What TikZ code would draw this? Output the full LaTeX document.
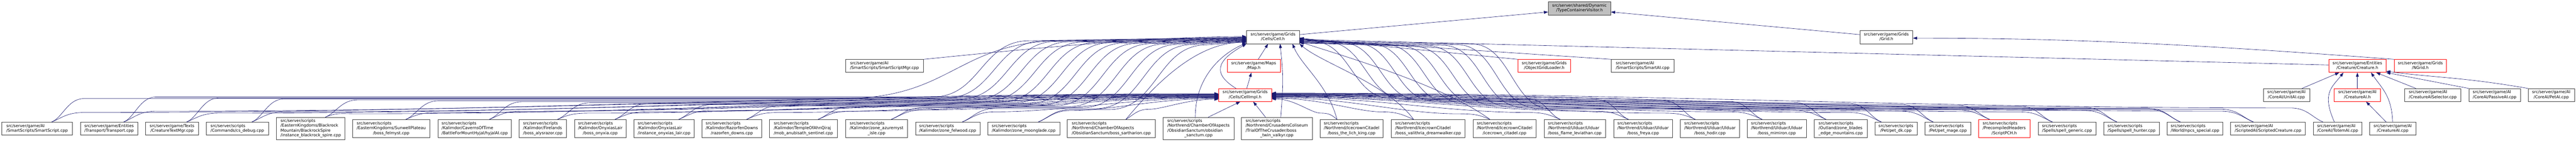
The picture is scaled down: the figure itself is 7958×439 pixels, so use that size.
\documentclass[tikz,border=0pt]{standalone}
\usepackage{fontspec}
\setmainfont{DejaVu Sans}
\usetikzlibrary{arrows.meta,calc}
\definecolor{mb}{HTML}{191970}
\definecolor{focusgray}{HTML}{BFBFBF}
\definecolor{nodeborder}{HTML}{404040}
\definecolor{nodered}{HTML}{FF0000}
\newcommand\mklbl[2]{\begin{tabular}{@{}l@{}}#1\\\multicolumn{1}{@{}c@{}}{#2}\end{tabular}}
\newcommand\mkbox[7]{%
 \pgfmathsetmacro\mkbw{#3-#2}\pgfmathsetmacro\mkbh{#5-#4}%
 \node[#6,minimum width=\mkbw pt,minimum height=\mkbh pt] (#1) at ({(#2+#3)/2},{-(#4+#5)/2}) {#7};}
% left source -> CellImpl (west side)
\newcommand\eLI[3]{%
 \draw[dep] let \p1=([xshift=45pt]#1.north), \p2=([yshift=#3pt]cellimpl.west),
   \n1={min(100,0.25*(\x2-\x1))}, \n2={\x2-\x1} in
 (\p1) .. controls ({\x1+0.35*\n1},{\y1+15}) and ({\x1+0.5*\n1},#2) .. ({\x1+\n1},#2)
 .. controls ({\x1+0.4*\n2},#2) and ({\x1+0.65*\n2},\y2) .. (\p2);}
% right source -> CellImpl (east side)
\newcommand\eRI[3]{%
 \draw[dep] let \p1=([xshift=-45pt]#1.north), \p2=([yshift=#3pt]cellimpl.east),
   \n1={min(100,0.25*(\x1-\x2))}, \n2={\x1-\x2} in
 (\p1) .. controls ({\x1-0.35*\n1},{\y1+15}) and ({\x1-0.5*\n1},#2) .. ({\x1-\n1},#2)
 .. controls ({\x1-0.4*\n2},#2) and ({\x1-0.65*\n2},\y2) .. (\p2);}
% left source -> Cell (bundle, then S-rise)
\newcommand\eLC[5]{%
 \draw[dep] let \p1=([xshift=45pt]#1.north), \p2=([yshift=#4pt]cell.west) in
 (\p1) .. controls ({\x1+35},{\y1+15}) and ({\x1+50},#3) .. ({\x1+100},#3)
 -- (#2,#3) .. controls ({#2+0.5*#5},#3) and ({#2+0.5*#5},{\y2-10}) .. ({#2+#5},{\y2-10}) -- (\p2);}
% right source -> Cell (bundle, then S-rise)
\newcommand\eRC[5]{%
 \draw[dep] let \p1=([xshift=-45pt]#1.north), \p2=([yshift=#4pt]cell.east) in
 (\p1) .. controls ({\x1-35},{\y1+15}) and ({\x1-50},#3) .. ({\x1-100},#3)
 -- (#2,#3) .. controls ({#2-0.5*#5},#3) and ({#2-0.5*#5},{\y2-10}) .. ({#2-#5},{\y2-10}) -- (\p2);}
\begin{document}
\begin{tikzpicture}[x=1pt,y=1pt,
  nbox/.style={draw=nodeborder,line width=1pt,fill=white,inner sep=0pt,text=black,
    font=\fontsize{12.5}{15}\selectfont},
  rbox/.style={nbox,draw=nodered},
  gbox/.style={nbox,fill=focusgray},
  dep/.style={draw=mb,line width=1pt,-{Triangle[length=13pt,width=9pt]}}]
\fill[white] (0,-439) rectangle (7958,0);
\useasboundingbox (0,-439) rectangle (7958,0);
% upper ranks
\mkbox{tcv}{4783}{4976}{6}{46}{gbox}{\mklbl{src/server/shared/Dynamic}{/TypeContainerVisitor.h}}
\mkbox{cell}{3851}{4014}{95}{135}{nbox}{\mklbl{src/server/game/Grids}{/Cells/Cell.h}}
\mkbox{grid}{5746}{5909}{95}{135}{nbox}{\mklbl{src/server/game/Grids}{/Grid.h}}
\mkbox{ssm}{2612}{2853}{184}{224}{nbox}{\mklbl{src/server/game/AI}{/SmartScripts/SmartScriptMgr.cpp}}
\mkbox{map}{3791}{3955}{184}{224}{rbox}{\mklbl{src/server/game/Maps}{/Map.h}}
\mkbox{ogl}{4689}{4852}{184}{224}{rbox}{\mklbl{src/server/game/Grids}{/ObjectGridLoader.h}}
\mkbox{sai}{4978}{5171}{184}{224}{nbox}{\mklbl{src/server/game/AI}{/SmartScripts/SmartAI.cpp}}
\mkbox{creature}{7194}{7371}{184}{224}{rbox}{\mklbl{src/server/game/Entities}{/Creature/Creature.h}}
\mkbox{ngrid}{7396}{7558}{184}{224}{rbox}{\mklbl{src/server/game/Grids}{/NGrid.h}}
\mkbox{cellimpl}{3765}{3928}{274}{314}{rbox}{\mklbl{src/server/game/Grids}{/Cells/CellImpl.h}}
\mkbox{unitai}{6992}{7135}{274}{314}{nbox}{\mklbl{src/server/game/AI}{/CoreAI/UnitAI.cpp}}
\mkbox{caih}{7211}{7354}{274}{314}{rbox}{\mklbl{src/server/game/AI}{/CreatureAI.h}}
\mkbox{caisel}{7429}{7602}{274}{314}{nbox}{\mklbl{src/server/game/AI}{/CreatureAISelector.cpp}}
\mkbox{passive}{7627}{7786}{274}{314}{nbox}{\mklbl{src/server/game/AI}{/CoreAI/PassiveAI.cpp}}
\mkbox{petai}{7810}{7953}{274}{314}{nbox}{\mklbl{src/server/game/AI}{/CoreAI/PetAI.cpp}}
% bottom rank
\mkbox{n1}{5}{224}{378}{418}{nbox}{\mklbl{src/server/game/AI}{/SmartScripts/SmartScript.cpp}}
\mkbox{n2}{248}{426}{378}{418}{nbox}{\mklbl{src/server/game/Entities}{/Transport/Transport.cpp}}
\mkbox{n3}{450}{613}{378}{418}{nbox}{\mklbl{src/server/game/Texts}{/CreatureTextMgr.cpp}}
\mkbox{n4}{637}{829}{378}{418}{nbox}{\mklbl{src/server/scripts}{/Commands/cs\_debug.cpp}}
\mkbox{n5}{854}{1066}{363}{432}{nbox}{\mklbl{src/server/scripts\\/EasternKingdoms/Blackrock\\Mountain/BlackrockSpire}{/instance\_blackrock\_spire.cpp}}
\mkbox{n6}{1089}{1328}{370}{425}{nbox}{\mklbl{src/server/scripts\\/EasternKingdoms/SunwellPlateau}{/boss\_felmyst.cpp}}
\mkbox{n7}{1353}{1580}{370}{425}{nbox}{\mklbl{src/server/scripts\\/Kalimdor/CavernsOfTime}{/BattleForMountHyjal/hyjalAI.cpp}}
\mkbox{n8}{1604}{1750}{370}{425}{nbox}{\mklbl{src/server/scripts\\/Kalimdor/Firelands}{/boss\_alysrazor.cpp}}
\mkbox{n9}{1775}{1934}{370}{425}{nbox}{\mklbl{src/server/scripts\\/Kalimdor/OnyxiasLair}{/boss\_onyxia.cpp}}
\mkbox{n10}{1958}{2145}{370}{425}{nbox}{\mklbl{src/server/scripts\\/Kalimdor/OnyxiasLair}{/instance\_onyxias\_lair.cpp}}
\mkbox{n11}{2169}{2353}{370}{425}{nbox}{\mklbl{src/server/scripts\\/Kalimdor/RazorfenDowns}{/razorfen\_downs.cpp}}
\mkbox{n12}{2377}{2587}{370}{425}{nbox}{\mklbl{src/server/scripts\\/Kalimdor/TempleOfAhnQiraj}{/mob\_anubisath\_sentinel.cpp}}
\mkbox{n13}{2612}{2804}{370}{425}{nbox}{\mklbl{src/server/scripts\\/Kalimdor/zone\_azuremyst}{\_isle.cpp}}
\mkbox{n14}{2828}{3027}{378}{418}{nbox}{\mklbl{src/server/scripts}{/Kalimdor/zone\_felwood.cpp}}
\mkbox{n15}{3051}{3274}{378}{418}{nbox}{\mklbl{src/server/scripts}{/Kalimdor/zone\_moonglade.cpp}}
\mkbox{n16}{3297}{3569}{370}{425}{nbox}{\mklbl{src/server/scripts\\/Northrend/ChamberOfAspects}{/ObsidianSanctum/boss\_sartharion.cpp}}
\mkbox{n17}{3593}{3812}{363}{432}{nbox}{\mklbl{src/server/scripts\\/Northrend/ChamberOfAspects\\/ObsidianSanctum/obsidian}{\_sanctum.cpp}}
\mkbox{n18}{3835}{4054}{363}{432}{nbox}{\mklbl{src/server/scripts\\/Northrend/CrusadersColiseum\\/TrialOfTheCrusader/boss}{\_twin\_valkyr.cpp}}
\mkbox{n19}{4078}{4273}{370}{425}{nbox}{\mklbl{src/server/scripts\\/Northrend/IcecrownCitadel}{/boss\_the\_lich\_king.cpp}}
\mkbox{n20}{4298}{4526}{370}{425}{nbox}{\mklbl{src/server/scripts\\/Northrend/IcecrownCitadel}{/boss\_valithria\_dreamwalker.cpp}}
\mkbox{n21}{4551}{4745}{370}{425}{nbox}{\mklbl{src/server/scripts\\/Northrend/IcecrownCitadel}{/icecrown\_citadel.cpp}}
\mkbox{n22}{4770}{4960}{370}{425}{nbox}{\mklbl{src/server/scripts\\/Northrend/Ulduar/Ulduar}{/boss\_flame\_leviathan.cpp}}
\mkbox{n23}{4985}{5167}{370}{425}{nbox}{\mklbl{src/server/scripts\\/Northrend/Ulduar/Ulduar}{/boss\_freya.cpp}}
\mkbox{n24}{5191}{5374}{370}{425}{nbox}{\mklbl{src/server/scripts\\/Northrend/Ulduar/Ulduar}{/boss\_hodir.cpp}}
\mkbox{n25}{5398}{5580}{370}{425}{nbox}{\mklbl{src/server/scripts\\/Northrend/Ulduar/Ulduar}{/boss\_mimiron.cpp}}
\mkbox{n26}{5605}{5768}{370}{425}{nbox}{\mklbl{src/server/scripts\\/Outland/zone\_blades}{\_edge\_mountains.cpp}}
\mkbox{n27}{5792}{5922}{378}{418}{nbox}{\mklbl{src/server/scripts}{/Pet/pet\_dk.cpp}}
\mkbox{n28}{5946}{6089}{378}{418}{nbox}{\mklbl{src/server/scripts}{/Pet/pet\_mage.cpp}}
\mkbox{n29}{6112}{6271}{370}{425}{rbox}{\mklbl{src/server/scripts\\/PrecompiledHeaders}{/ScriptPCH.h}}
\mkbox{n30}{6296}{6475}{378}{418}{nbox}{\mklbl{src/server/scripts}{/Spells/spell\_generic.cpp}}
\mkbox{n31}{6499}{6671}{378}{418}{nbox}{\mklbl{src/server/scripts}{/Spells/spell\_hunter.cpp}}
\mkbox{n32}{6695}{6867}{378}{418}{nbox}{\mklbl{src/server/scripts}{/World/npcs\_special.cpp}}
\mkbox{n33}{6891}{7122}{378}{418}{nbox}{\mklbl{src/server/game/AI}{/ScriptedAI/ScriptedCreature.cpp}}
\mkbox{totem}{7146}{7297}{378}{418}{nbox}{\mklbl{src/server/game/AI}{/CoreAI/TotemAI.cpp}}
\mkbox{caicpp}{7320}{7463}{378}{418}{nbox}{\mklbl{src/server/game/AI}{/CreatureAI.cpp}}
% upper edges
\draw[dep] ([yshift=8pt]cell.east) -- ([yshift=-11pt]tcv.west);
\draw[dep] ([yshift=8pt]grid.west) -- ([yshift=-11pt]tcv.east);
\draw[dep] (ngrid.north west) .. controls +(-600,45) and +(500,0) .. ([yshift=-3pt]grid.east);
\draw[dep] ([xshift=14pt]map.north) -- ([xshift=-15pt]cell.south);
\draw[dep] ([xshift=5pt]cellimpl.north) -- ([xshift=-7pt]map.south);
\draw[dep] ([xshift=-28pt]cellimpl.north) .. controls +(-90,55) and +(-70,-40) .. (cell.south west);
\draw[dep] ([yshift=3pt]creature.west) -- ([yshift=-7pt]cell.east);
\draw[dep] (ogl.north west) -- ([yshift=-3pt]cell.east);
\draw[dep] (sai.north west) -- ([yshift=-5pt]cell.east);
\draw[dep] (ssm.north east) .. controls +(300,30) and +(-300,0) .. ([yshift=2pt]cell.west);
% creature related
\draw[dep] ([xshift=48pt]unitai.north) -- ([xshift=-56pt]creature.south);
\draw[dep] ([xshift=-10pt]totem.north) .. controls +(-40,90) and +(-35,-45) .. ([xshift=-43pt]creature.south);
\draw[dep] (caih.north) -- (creature.south);
\draw[dep] ([xshift=-20pt]caicpp.north) -- ([xshift=27pt]caih.south);
\draw[dep] (caicpp.north) .. controls +(-3,80) and +(35,-50) .. ([xshift=42pt]creature.south);
\draw[dep] ([xshift=-52pt]caisel.north) -- ([xshift=58pt]creature.south);
\draw[dep] (passive.north west) -- (creature.south east);
\draw[dep] (petai.north west) .. controls +(-200,35) and +(150,-20) .. ([yshift=4pt]creature.south east);
% left group
\eLI{n1}{-348}{4}   \eLC{n1}{2600}{-305}{0}{700}
\eLI{n2}{-344}{3}   \eLC{n2}{2880}{-300}{-1}{300}
\eLI{n3}{-350}{2}   \eLC{n3}{2922}{-303}{-2}{300}
\eLI{n4}{-346}{1}   \eLC{n4}{2964}{-306}{-3}{300}
\eLI{n5}{-352}{0}   \eLC{n5}{3006}{-309}{-4}{300}
\eLI{n6}{-348}{-1}  \eLC{n6}{3048}{-312}{-5}{300}
\eLI{n7}{-344}{-2}  \eLC{n7}{3090}{-315}{-6}{300}
\eLI{n8}{-350}{-3}  \eLC{n8}{3132}{-318}{-7}{300}
\eLI{n9}{-346}{-4}  \eLC{n9}{3174}{-321}{-8}{300}
\eLI{n10}{-342}{-5} \eLC{n10}{3216}{-324}{-9}{300}
\eLI{n11}{-348}{-6} \eLC{n11}{3258}{-327}{-10}{300}
\eLI{n12}{-344}{-7} \eLC{n12}{3300}{-330}{-11}{300}
\eLI{n13}{-340}{-8} \eLC{n13}{3342}{-333}{-12}{300}
\eLI{n14}{-346}{-9} \eLC{n14}{3384}{-336}{-13}{300}
\eLI{n15}{-342}{-11} \eLC{n15}{3426}{-339}{-14}{300}
\eLI{n16}{-338}{-13}
\draw[dep] ([xshift=45pt]n16.north) .. controls +(100,120) and +(-150,0) .. ([yshift=-16pt]cell.west);
\draw[dep] ([xshift=-10pt]n17.north) .. controls +(0,130) and +(-70,-30) .. ([yshift=-18pt]cell.west);
\draw[dep] ([xshift=30pt]n17.north) -- ([xshift=-15pt]cellimpl.south);
\draw[dep] ([xshift=-35pt]n18.north) -- ([xshift=25pt]cellimpl.south);
\draw[dep] ([xshift=12pt]n18.north) .. controls +(10,120) and +(8,-80) .. ([xshift=22pt]cell.south);
% right group
\eRI{n19}{-350}{-12}
\draw[dep] ([xshift=-45pt]n19.north) .. controls +(-30,110) and +(30,-70) .. ([xshift=-22pt]cell.south east);
\eRI{n20}{-346}{-10}
\draw[dep] ([xshift=-45pt]n20.north) .. controls +(-80,110) and +(70,-60) .. (cell.south east);
\eRI{n21}{-352}{-8}
\draw[dep] ([xshift=-45pt]n21.north) .. controls +(-150,110) and +(120,-40) .. ([yshift=-14pt]cell.east);
\eRI{n22}{-348}{-6} \eRC{n22}{4300}{-305}{-2}{250}
\eRI{n23}{-344}{-5} \eRC{n23}{4345}{-308}{-4}{250}
\eRI{n24}{-350}{-4} \eRC{n24}{4390}{-311}{-6}{250}
\eRI{n25}{-346}{-3} \eRC{n25}{4435}{-314}{-8}{250}
\eRI{n26}{-342}{-2} \eRC{n26}{4480}{-317}{-10}{250}
\eRI{n27}{-348}{-1} \eRC{n27}{4525}{-320}{-12}{250}
\eRI{n28}{-344}{0}  \eRC{n28}{4570}{-323}{-16}{250}
\eRI{n29}{-340}{1}  \eRC{n29}{4615}{-326}{-18}{250}
\eRI{n30}{-346}{2}  \eRC{n30}{4660}{-329}{-17}{250}
\eRI{n31}{-342}{3}  \eRC{n31}{4705}{-332}{-15}{250}
\eRI{n32}{-338}{4}  \eRC{n32}{4750}{-335}{-13}{250}
\eRI{n33}{-344}{5}  \eRC{n33}{4795}{-338}{-11}{250}
\eRI{totem}{-334}{6}
\end{tikzpicture}
\end{document}
